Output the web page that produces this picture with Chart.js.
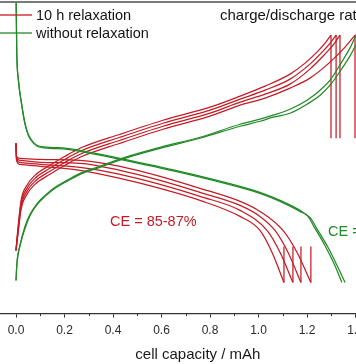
<!DOCTYPE html>
<html>
<head>
<meta charset="utf-8">
<script src="https://cdn.jsdelivr.net/npm/chart.js@4/dist/chart.umd.min.js"></script>
<style>
html,body{margin:0;padding:0;overflow:hidden;background:#fff;width:356px;height:364px;}
#wrap{position:absolute;left:-40px;top:0;width:460px;height:364px;}
</style>
</head>
<body>
<div id="wrap"><canvas id="c"></canvas></div>
<script>
// ---- data: capacity (mAh) and voltage (V, hidden axis) ----
const xTicks = [0.0, 0.2, 0.4, 0.6, 0.8, 1.0, 1.2, 1.4, 1.6];
const xMinorTicks = [0.1, 0.3, 0.5, 0.7, 0.9, 1.1, 1.3, 1.5];

// 10 h relaxation: charge curves (4 cycles)
const redChgCap1 = [0,0.008,0.021,0.045,0.078,0.140,0.202,0.264,0.429,0.606,0.800,0.924,1.027,1.130,1.192,1.245,1.278,1.299];
const redChgV1   = [2.871,3.025,3.221,3.326,3.396,3.466,3.529,3.585,3.683,3.781,3.872,3.949,4.019,4.103,4.180,4.264,4.327,4.376];
const redChgCap2 = [0,0.008,0.021,0.045,0.078,0.140,0.202,0.264,0.429,0.606,0.800,0.924,1.027,1.130,1.212,1.266,1.299,1.320];
const redChgV2   = [2.871,3.011,3.200,3.305,3.375,3.445,3.508,3.564,3.662,3.760,3.851,3.928,3.991,4.068,4.173,4.264,4.327,4.376];
const redChgCap3 = [0,0.008,0.021,0.045,0.078,0.140,0.202,0.264,0.429,0.606,0.800,0.924,1.027,1.130,1.212,1.274,1.311,1.336];
const redChgV3   = [2.871,2.997,3.179,3.284,3.354,3.424,3.487,3.543,3.641,3.739,3.830,3.907,3.963,4.033,4.138,4.243,4.313,4.376];
const redChgCap4 = [0,0.008,0.021,0.045,0.078,0.140,0.202,0.264,0.429,0.606,0.800,0.924,1.027,1.130,1.212,1.295,1.357,1.398];
const redChgV4   = [2.871,2.983,3.158,3.263,3.333,3.403,3.466,3.522,3.620,3.718,3.809,3.886,3.935,4.005,4.075,4.187,4.292,4.376];
// relaxation after charge (end capacity, voltage before/after)
const redRelaxChgCap = [1.299, 1.320, 1.336, 1.398];
const redRelaxChgV = [4.376, 3.655];

// 10 h relaxation: discharge curves (4 cycles)
const redDisCap1 = [0,0.002,0.016,0.099,0.264,0.429,0.594,0.759,0.924,1.006,1.056,1.105];
const redDisV1   = [3.620,3.501,3.473,3.459,3.431,3.375,3.305,3.221,3.109,3.011,2.857,2.647];
const redDisCap2 = [0,0.002,0.016,0.099,0.264,0.429,0.594,0.759,0.924,1.035,1.089,1.142];
const redDisV2   = [3.620,3.515,3.487,3.473,3.452,3.403,3.333,3.249,3.151,3.011,2.857,2.647];
const redDisCap3 = [0,0.002,0.016,0.099,0.264,0.429,0.594,0.759,0.924,1.006,1.068,1.122,1.175];
const redDisV3   = [3.620,3.522,3.501,3.487,3.480,3.431,3.361,3.277,3.186,3.109,3.011,2.857,2.647];
const redDisCap4 = [0,0.002,0.016,0.099,0.264,0.429,0.594,0.759,0.924,1.006,1.101,1.159,1.216];
const redDisV4   = [3.620,3.529,3.515,3.508,3.501,3.459,3.389,3.305,3.214,3.144,3.011,2.857,2.647];
// relaxation after discharge
const redRelaxDisCap = [1.105, 1.142, 1.175, 1.216];
const redRelaxDisV = [2.647, 2.899];

// without relaxation: charge curves (2 cycles)
const grnChgCap1 = [0,0.004,0.016,0.037,0.058,0.091,0.120,0.161,0.210,0.264,0.346,0.449,0.594,0.759,0.924,1.006,1.060,1.130,1.200,1.254,1.295,1.348,1.377,1.406];
const grnChgV1   = [2.661,2.787,2.906,3.039,3.123,3.207,3.256,3.312,3.361,3.410,3.459,3.522,3.592,3.662,3.753,3.788,3.816,3.858,3.921,3.991,4.061,4.201,4.285,4.390];
const grnChgCap2 = [0,0.004,0.016,0.037,0.058,0.091,0.120,0.161,0.210,0.264,0.346,0.449,0.594,0.759,0.924,1.006,1.060,1.130,1.200,1.254,1.295,1.348,1.377,1.419];
const grnChgV2   = [2.661,2.780,2.899,3.025,3.116,3.200,3.249,3.305,3.354,3.403,3.452,3.515,3.585,3.655,3.739,3.774,3.802,3.830,3.893,3.956,4.026,4.152,4.229,4.362];
// without relaxation: discharge curves (2 cycles)
const grnDisCap1 = [0,0.003,0.010,0.021,0.037,0.049,0.062,0.087,0.140,0.210,0.264,0.429,0.676,0.924,1.006,1.089,1.171,1.204,1.233,1.274,1.315,1.344];
const grnDisV1   = [4.691,4.271,4.061,3.921,3.760,3.690,3.648,3.606,3.592,3.585,3.571,3.515,3.424,3.319,3.277,3.221,3.151,3.109,3.025,2.906,2.766,2.647];
const grnDisCap2 = [0,0.003,0.010,0.021,0.037,0.049,0.062,0.087,0.140,0.210,0.264,0.429,0.676,0.924,1.006,1.089,1.171,1.212,1.245,1.287,1.328,1.357];
const grnDisV2   = [4.691,4.271,4.061,3.914,3.753,3.683,3.641,3.599,3.585,3.578,3.564,3.508,3.417,3.312,3.270,3.214,3.144,3.102,3.011,2.892,2.752,2.647];

const seriesNames = ['10 h relaxation', 'without relaxation'];
const annotRed = 'CE = 85-87%';
const annotGreen = 'CE = 95%';
const rateText = 'charge/discharge rate';
const xTitle = 'cell capacity / mAh';

// ---- styling ----
const RED = '#c41c26';
const GREEN = '#228a28';
const LW = 1.25;
const FONT = "'Liberation Sans', Arial, sans-serif";

function pts(xs, ys){ return xs.map((x,i)=>({x:x, y:ys[i]})); }
function curve(xs, ys, color){
  return {data: pts(xs, ys), borderColor: color, borderWidth: LW, pointRadius: 0,
          fill: false, cubicInterpolationMode: 'monotone'};
}
function vline(x, vs, color){
  return {data: [{x:x, y:vs[0]}, {x:x, y:vs[1]}], borderColor: color, borderWidth: LW,
          pointRadius: 0, fill: false, tension: 0};
}

const datasets = [
  curve(grnChgCap1, grnChgV1, GREEN), curve(grnChgCap2, grnChgV2, GREEN),
  curve(grnDisCap1, grnDisV1, GREEN), curve(grnDisCap2, grnDisV2, GREEN),
  curve(redChgCap1, redChgV1, RED), curve(redChgCap2, redChgV2, RED),
  curve(redChgCap3, redChgV3, RED), curve(redChgCap4, redChgV4, RED),
  curve(redDisCap1, redDisV1, RED), curve(redDisCap2, redDisV2, RED),
  curve(redDisCap3, redDisV3, RED), curve(redDisCap4, redDisV4, RED),
];
redRelaxChgCap.forEach(c => datasets.push(vline(c, redRelaxChgV, RED)));
redRelaxDisCap.forEach(c => datasets.push(vline(c, redRelaxDisV, RED)));

const OX = 40; // canvas offset relative to page

const decor = {
  id: 'decor',
  afterDraw(chart){
    const ctx = chart.ctx;
    const xs = chart.scales.x;
    const ca = chart.chartArea;
    ctx.save();
    // top frame line
    ctx.strokeStyle = '#7a7a7a';
    ctx.lineWidth = 2;
    ctx.beginPath(); ctx.moveTo(ca.left, ca.top - 1); ctx.lineTo(ca.right, ca.top - 1); ctx.stroke();
    // minor ticks
    ctx.strokeStyle = '#333';
    ctx.lineWidth = 1;
    xMinorTicks.forEach(v => {
      const px = Math.round(xs.getPixelForValue(v)) + 0.5;
      ctx.beginPath(); ctx.moveTo(px, ca.bottom); ctx.lineTo(px, ca.bottom + 2.5); ctx.stroke();
    });
    // legend
    ctx.font = '14.5px ' + FONT;
    ctx.textBaseline = 'middle';
    ctx.textAlign = 'left';
    [[RED, 15], [GREEN, 33]].forEach((d, i) => {
      ctx.strokeStyle = d[0]; ctx.lineWidth = 1.3;
      ctx.beginPath(); ctx.moveTo(OX + 0, d[1]); ctx.lineTo(OX + 32, d[1]); ctx.stroke();
      ctx.fillStyle = '#141414';
      ctx.fillText(seriesNames[i], OX + 36, d[1] + 1);
    });
    ctx.font = '15px ' + FONT;
    ctx.fillStyle = '#141414';
    ctx.fillText(rateText, OX + 220, 16);
    ctx.font = '14.5px ' + FONT;
    ctx.fillStyle = RED;
    ctx.fillText(annotRed, OX + 110, 222);
    ctx.fillStyle = GREEN;
    ctx.fillText(annotGreen, OX + 328, 232);
    ctx.restore();
  }
};

new Chart(document.getElementById('c'), {
  type: 'line',
  data: { datasets: datasets },
  options: {
    responsive: true,
    maintainAspectRatio: false,
    animation: false,
    events: [],
    layout: { padding: { left: 31.75, right: 16, top: 3, bottom: 0 } },
    plugins: { legend: { display: false }, tooltip: { enabled: false } },
    scales: {
      x: {
        type: 'linear', min: -0.1, max: 1.6,
        afterBuildTicks: s => { s.ticks = xTicks.map(v => ({value: v})); },
        ticks: { callback: v => Number(v).toFixed(1), color: '#2a2a2a', padding: 6,
                 maxRotation: 0, autoSkip: false, font: { family: FONT, size: 12 } },
        grid: { display: true, drawOnChartArea: false, drawTicks: true, tickLength: 4,
                tickColor: '#333', tickWidth: 1 },
        border: { display: true, color: '#333', width: 1.3 },
        title: { display: true, text: xTitle, color: '#1a1a1a',
                 font: { family: FONT, size: 15 }, padding: { top: 2, bottom: 0 } }
      },
      y: { type: 'linear', display: false, min: 2.43, max: 4.6 }
    }
  },
  plugins: [decor]
});
</script>
</body>
</html>
